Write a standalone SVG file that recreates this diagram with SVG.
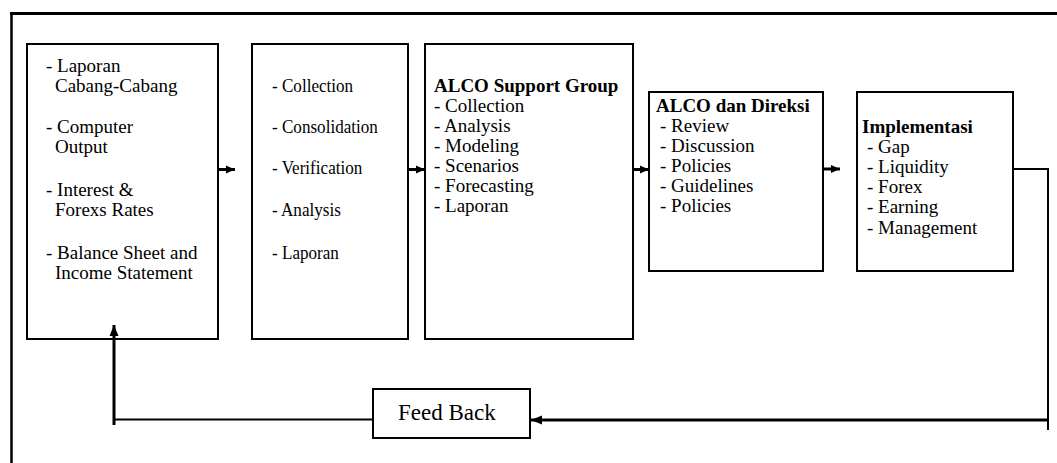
<svg xmlns="http://www.w3.org/2000/svg" width="1057" height="463" viewBox="0 0 1057 463">
<style>
  .box { fill: #fff; stroke: #000; stroke-width: 2; }
  .t { font-family: "Liberation Serif", "Times New Roman", serif; font-size: 19px; fill: #000; }
  .b { font-weight: bold; }
  .fb { font-family: "Liberation Serif", "Times New Roman", serif; font-size: 23px; fill: #000; }
  .ln { fill: none; stroke: #000; stroke-width: 2; }
  .thick { fill: none; stroke: #000; stroke-width: 3; }
</style>
<defs>
  <marker id="ah" markerWidth="10" markerHeight="10" refX="9" refY="5" orient="auto" markerUnits="userSpaceOnUse">
    <path d="M0,1 L9,5 L0,9 z" fill="#000"/>
  </marker>
  <marker id="ahL" markerWidth="12" markerHeight="12" refX="11" refY="6" orient="auto" markerUnits="userSpaceOnUse">
    <path d="M0,1.5 L11,6 L0,10.5 z" fill="#000"/>
  </marker>
</defs>
<rect x="0" y="0" width="1057" height="463" fill="#fff"/>
<g id="frame">
  <line x1="10" y1="13.5" x2="1057" y2="13.5" stroke="#000" stroke-width="3"/>
  <line x1="11.5" y1="12" x2="11.5" y2="463" stroke="#000" stroke-width="2.5"/>
</g>
<g id="node-sources">
  <rect class="box" x="27" y="44" width="191" height="295"/>
  <text class="t" x="46" y="72">- Laporan</text>
  <text class="t" x="55" y="92">Cabang-Cabang</text>
  <text class="t" x="46" y="133">- Computer</text>
  <text class="t" x="55" y="153">Output</text>
  <text class="t" x="46" y="196">- Interest &amp;</text>
  <text class="t" x="55" y="216">Forexs Rates</text>
  <text class="t" x="46" y="259">- Balance Sheet and</text>
  <text class="t" x="55" y="279">Income Statement</text>
</g>
<g id="node-processing">
  <rect class="box" x="252" y="44" width="156" height="295"/>
  <g transform="translate(272,0) scale(0.9,1)">
    <text class="t" x="0" y="92">- Collection</text>
    <text class="t" x="0" y="133">- Consolidation</text>
    <text class="t" x="0" y="174">- Verification</text>
    <text class="t" x="0" y="216">- Analysis</text>
    <text class="t" x="0" y="259">- Laporan</text>
  </g>
</g>
<g id="node-alco-support">
  <rect class="box" x="425" y="44" width="208" height="295"/>
  <text class="t b" x="434" y="92">ALCO Support Group</text>
  <text class="t" x="434" y="112">- Collection</text>
  <text class="t" x="434" y="132">- Analysis</text>
  <text class="t" x="434" y="152">- Modeling</text>
  <text class="t" x="434" y="172">- Scenarios</text>
  <text class="t" x="434" y="192">- Forecasting</text>
  <text class="t" x="434" y="212">- Laporan</text>
</g>
<g id="node-alco-direksi">
  <rect class="box" x="649" y="92" width="174" height="179"/>
  <text class="t b" x="656" y="112">ALCO dan Direksi</text>
  <text class="t" x="660" y="132">- Review</text>
  <text class="t" x="660" y="152">- Discussion</text>
  <text class="t" x="660" y="172">- Policies</text>
  <text class="t" x="660" y="192">- Guidelines</text>
  <text class="t" x="660" y="212">- Policies</text>
</g>
<g id="node-implementasi">
  <rect class="box" x="857" y="92" width="156" height="179"/>
  <text class="t b" x="862" y="133">Implementasi</text>
  <text class="t" x="867" y="153">- Gap</text>
  <text class="t" x="867" y="173">- Liquidity</text>
  <text class="t" x="867" y="193">- Forex</text>
  <text class="t" x="867" y="213">- Earning</text>
  <text class="t" x="867" y="234">- Management</text>
</g>
<g id="node-feedback">
  <rect class="box" x="373" y="389" width="157" height="49"/>
  <text class="fb" x="398" y="420">Feed Back</text>
</g>
<g id="connectors">
  <line class="thick" x1="219" y1="169.5" x2="235" y2="169.5" marker-end="url(#ah)"/>
  <line class="thick" x1="409" y1="169.5" x2="425" y2="169.5" marker-end="url(#ah)"/>
  <line class="thick" x1="634" y1="169.5" x2="649" y2="169.5" marker-end="url(#ah)"/>
  <line class="thick" x1="824" y1="169" x2="840" y2="169" marker-end="url(#ah)"/>
  <polyline class="ln" points="1014,169 1048,169 1048,430"/>
  <line class="thick" x1="1048" y1="420" x2="531" y2="420" marker-end="url(#ahL)"/>
  <line class="ln" x1="372" y1="419.5" x2="113" y2="419.5"/>
  <line class="thick" x1="114" y1="425" x2="114" y2="325" marker-end="url(#ahL)"/>
</g>
</svg>
